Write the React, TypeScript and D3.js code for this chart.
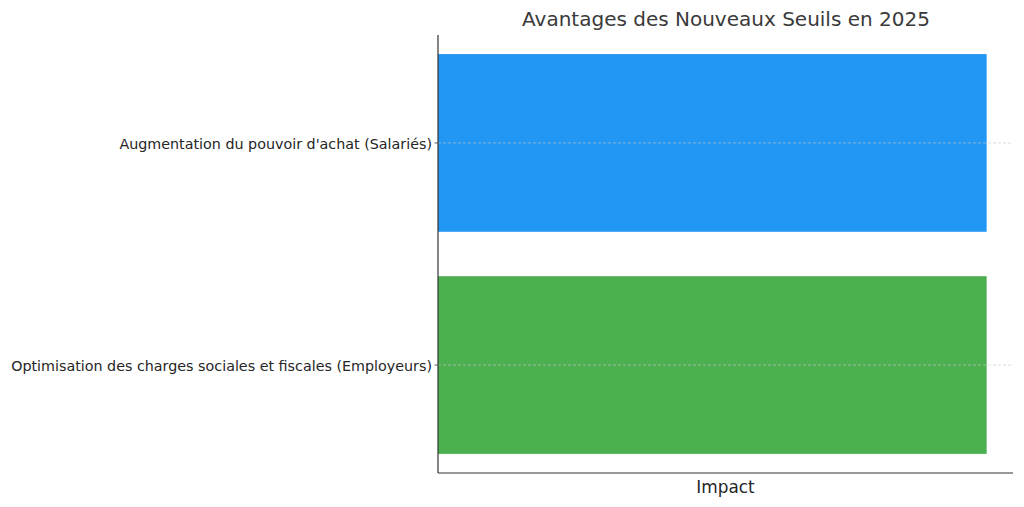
import React from "react";
import * as d3 from "d3";

const categories = [
  "Augmentation du pouvoir d'achat (Salariés)",
  "Optimisation des charges sociales et fiscales (Employeurs)",
];
const values = [1, 1];
const colors = ["#2196F3", "#4CAF50"];
const title = "Avantages des Nouveaux Seuils en 2025";
const xLabel = "Impact";

export default function App() {
  const W = 1024, H = 507;
  const left = 438, right = 1013, top = 35, bottom = 473;
  const x = d3.scaleLinear().domain([0, 1.048]).range([left, right]);
  const y = d3.scaleLinear().domain([-0.486, 1.486]).range([top, bottom]);
  const font = "DejaVu Sans, sans-serif";
  const bh = 0.8;
  return (
    <svg width={W} height={H} style={{ position: "absolute", left: 0, top: 0 }} fontFamily={font}>
      <rect width={W} height={H} fill="#fff" />
      {categories.map((c, i) => (
        <g key={c}>
          <rect
            x={x(0)}
            y={y(i - bh / 2)}
            width={x(values[i]) - x(0)}
            height={y(i + bh / 2) - y(i - bh / 2)}
            fill={colors[i]}
          />
          <line x1={left} x2={right} y1={y(i)} y2={y(i)} stroke="#c8c8c8" strokeWidth={0.8} strokeDasharray="3,2" opacity={0.8} />
          <line x1={left - 3.5} x2={left} y1={y(i)} y2={y(i)} stroke="#333" strokeWidth={0.8} />
          <text x={left - 6} y={y(i) + 1} textAnchor="end" dominantBaseline="central" fontSize={14.3} fill="#262626">{c}</text>
        </g>
      ))}
      <line x1={left} x2={left} y1={top} y2={bottom} stroke="#333" strokeWidth={1.2} />
      <line x1={left} x2={right} y1={bottom} y2={bottom} stroke="#333" strokeWidth={1.2} />
      <text x={(left + right) / 2 + 0.5} y={26} textAnchor="middle" fontSize={20} fill="#3a3a3a">{title}</text>
      <text x={(left + right) / 2} y={493} textAnchor="middle" fontSize={16.9} fill="#262626">{xLabel}</text>
    </svg>
  );
}
